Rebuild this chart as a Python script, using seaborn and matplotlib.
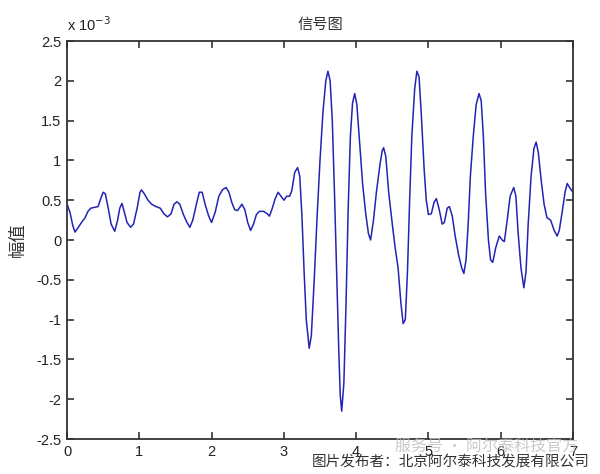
import numpy as np
import pandas as pd
import matplotlib
matplotlib.use("Agg")
import matplotlib.pyplot as plt
import matplotlib.ticker as mtick
import seaborn as sns

# Datos (tiempo en s, amplitud en unidades de 1e-3)
tiempo = [
    0.00, 0.04, 0.08, 0.11, 0.15, 0.20, 0.25, 0.29, 0.33, 0.38, 0.43, 0.47, 0.50, 0.53,
    0.57, 0.61, 0.66, 0.70, 0.73, 0.76, 0.79, 0.83, 0.88, 0.92, 0.97, 1.01, 1.03, 1.07,
    1.12, 1.17, 1.23, 1.29, 1.34, 1.39, 1.44, 1.48, 1.52, 1.56, 1.61, 1.66, 1.70, 1.74,
    1.79, 1.83, 1.87, 1.91, 1.96, 2.00, 2.05, 2.10, 2.15, 2.20, 2.24, 2.28, 2.32, 2.36,
    2.42, 2.46, 2.50, 2.54, 2.58, 2.62, 2.66, 2.72, 2.77, 2.80, 2.84, 2.88, 2.92, 2.96,
    3.00, 3.04, 3.08, 3.11, 3.15, 3.19, 3.22, 3.25, 3.28, 3.31, 3.35, 3.38, 3.42, 3.46,
    3.50, 3.54, 3.58, 3.61, 3.64, 3.67, 3.70, 3.73, 3.76, 3.78, 3.80, 3.83, 3.86, 3.89,
    3.92, 3.95, 3.98, 4.01, 4.05, 4.09, 4.13, 4.17, 4.20, 4.24, 4.28, 4.33, 4.36, 4.38,
    4.41, 4.45, 4.50, 4.54, 4.58, 4.62, 4.65, 4.68, 4.71, 4.74, 4.77, 4.81, 4.84, 4.87,
    4.90, 4.94, 4.97, 5.00, 5.04, 5.08, 5.11, 5.15, 5.19, 5.22, 5.26, 5.29, 5.33, 5.37,
    5.42, 5.46, 5.49, 5.52, 5.55, 5.58, 5.62, 5.66, 5.70, 5.73, 5.76, 5.79, 5.83, 5.86,
    5.89, 5.93, 5.98, 6.02, 6.05, 6.09, 6.13, 6.18, 6.21, 6.24, 6.28, 6.32, 6.35, 6.38,
    6.42, 6.46, 6.49, 6.52, 6.56, 6.60, 6.64, 6.69, 6.74, 6.78, 6.81, 6.85, 6.89, 6.92,
    6.96, 7.00,
]
amplitud_e3 = [
    0.45, 0.35, 0.18, 0.10, 0.15, 0.22, 0.28, 0.36, 0.40, 0.41, 0.42, 0.53, 0.60, 0.58,
    0.40, 0.20, 0.11, 0.25, 0.40, 0.46, 0.36, 0.22, 0.16, 0.20, 0.40, 0.60, 0.63, 0.58,
    0.50, 0.45, 0.42, 0.40, 0.33, 0.29, 0.33, 0.45, 0.48, 0.45, 0.32, 0.22, 0.16, 0.25,
    0.45, 0.60, 0.60, 0.45, 0.30, 0.22, 0.35, 0.55, 0.63, 0.66, 0.60, 0.47, 0.38, 0.37,
    0.45, 0.38, 0.22, 0.12, 0.20, 0.32, 0.36, 0.36, 0.33, 0.30, 0.40, 0.52, 0.60, 0.55,
    0.50, 0.55, 0.55, 0.62, 0.85, 0.91, 0.80, 0.30, -0.40, -1.00, -1.36, -1.20, -0.50, 0.30,
    1.00, 1.60, 2.00, 2.12, 2.00, 1.50, 0.60, -0.40, -1.40, -1.95, -2.15, -1.80, -0.80, 0.40,
    1.30, 1.72, 1.84, 1.70, 1.20, 0.70, 0.35, 0.08, 0.00, 0.25, 0.60, 0.95, 1.12, 1.16,
    1.05, 0.60, 0.20, -0.10, -0.35, -0.80, -1.05, -1.00, -0.40, 0.50, 1.30, 1.90, 2.12, 2.05,
    1.60, 0.90, 0.50, 0.32, 0.33, 0.48, 0.52, 0.38, 0.20, 0.22, 0.40, 0.42, 0.30, 0.05,
    -0.20, -0.35, -0.42, -0.25, 0.20, 0.80, 1.30, 1.70, 1.84, 1.75, 1.30, 0.60, 0.00, -0.25,
    -0.28, -0.10, 0.05, 0.00, -0.02, 0.25, 0.55, 0.66, 0.55, 0.10, -0.35, -0.60, -0.40, 0.20,
    0.80, 1.15, 1.23, 1.10, 0.75, 0.45, 0.28, 0.25, 0.12, 0.05, 0.12, 0.35, 0.60, 0.71,
    0.65, 0.60,
]

titulo = "信号图"
etiqueta_y = "幅值"
marca_agua = "服务号 · 阿尔泰科技官方"
pie = "图片发布者：北京阿尔泰科技发展有限公司"

datos = pd.DataFrame({"t": tiempo, "amp": np.array(amplitud_e3) * 1e-3})

sns.set_theme(style="white")
plt.rcParams["font.family"] = ["Liberation Sans", "Noto Sans CJK SC", "DejaVu Sans"]
plt.rcParams["axes.unicode_minus"] = False

fig = plt.figure(figsize=(6, 4.74), dpi=100)
ax = fig.add_axes([0.1117, 0.0738, 0.8433, 0.8397])

sns.lineplot(data=datos, x="t", y="amp", ax=ax, color="#2323b4",
             linewidth=1.1, estimator=None, sort=False)

ax.set_xlim(0, 7)
ax.set_ylim(-2.5e-3, 2.5e-3)
ax.set_xticks(range(0, 8))
ax.set_yticks(np.arange(-2.5, 2.51, 0.5) * 1e-3)
ax.yaxis.set_major_formatter(mtick.FuncFormatter(lambda v, p: f"{v * 1e3:g}"))
ax.xaxis.set_major_formatter(mtick.FuncFormatter(lambda v, p: f"{v:g}"))

ax.tick_params(direction="in", length=5, width=1.2, color="#333333",
               labelsize=10.5, labelcolor="#222222", top=True, right=True,
               bottom=True, left=True, pad=4)
for s in ax.spines.values():
    s.set_color("#333333")
    s.set_linewidth(1.3)

ax.set_xlabel("")
ax.set_ylabel(etiqueta_y, fontsize=12.5, family=["Noto Sans CJK SC"], color="#333333")
ax.yaxis.set_label_coords(-0.08, 0.5)
ax.set_title(titulo, fontsize=11, family=["Noto Sans CJK SC"], color="#333333", pad=9)

ax.text(0.0, 1.018, r"x 10$^{-3}$", transform=ax.transAxes, fontsize=10.5,
        color="#222222", ha="left", va="bottom")

# marcas de agua presentes en la imagen original
fig.text(0.963, 0.057, marca_agua, fontsize=11.5, family=["Noto Sans CJK SC"],
         color="#bdbdbd", alpha=0.8, ha="right", va="center")
fig.text(0.983, 0.024, pie, fontsize=10.5, family=["Noto Sans CJK SC"],
         color="#333333", ha="right", va="center")

fig.savefig("out.png", dpi=100, facecolor="white")
